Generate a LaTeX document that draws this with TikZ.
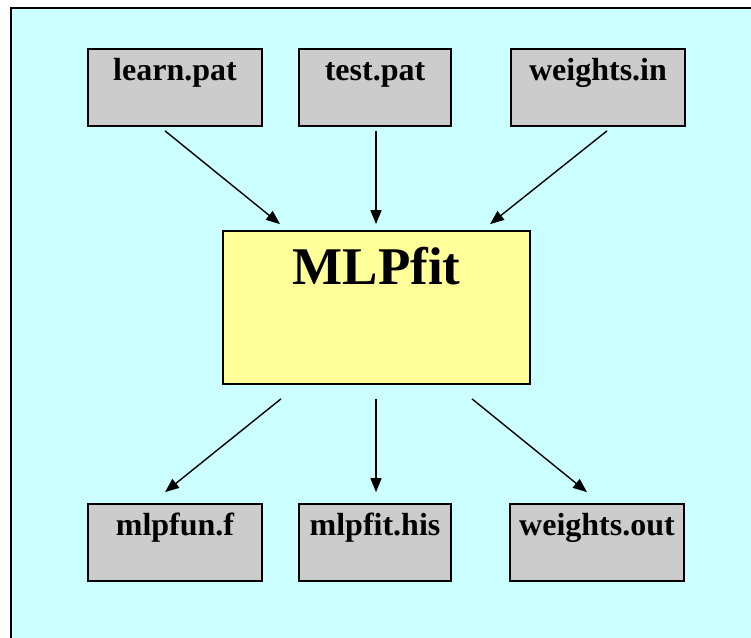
\documentclass[tikz,border=0pt]{standalone}
\usepackage{fontspec}
\setmainfont{Liberation Serif}
\usepackage{xcolor}
\usetikzlibrary{arrows.meta,calc}

\definecolor{bgcyan}{HTML}{CCFFFF}
\definecolor{filegray}{HTML}{CCCCCC}
\definecolor{progyellow}{HTML}{FFFF99}

\begin{document}
\begin{tikzpicture}[
  x=1pt, y=-1pt,
  >={Triangle[length=14pt,width=11pt]},
  filebox/.style={draw, line width=1.7pt, fill=filegray, inner sep=0pt, align=center,
    text width=#1, text height=31pt, text depth=46pt,
    font=\fontsize{32}{36}\selectfont\bfseries},
  filebox/.default=174pt,
  progbox/.style={draw, line width=1.7pt, fill=progyellow, inner sep=0pt, align=center,
    text width=307pt, text height=53pt, text depth=100pt,
    font=\fontsize{53}{60}\selectfont\bfseries},
  flow/.style={->, line width=1.4pt}
]
\useasboundingbox (0,0) rectangle (751,637);
\fill[bgcyan, draw=black, line width=2.2pt] (11,8) rectangle (770,660);

% input files
\node[filebox] (learn) at (175,87.5) {learn.pat};
\node[filebox=152pt] (test) at (375,87.5) {test.pat};
\node[filebox] (winput) at (598,87.5) {weights.in};

% program
\node[progbox] (mlp) at (376.5,307.5) {MLPfit};

% output files
\node[filebox] (mlpfun) at (175,542.5) {mlpfun.f};
\node[filebox=152pt] (mlphis) at (375,542.5) {mlpfit.his};
\node[filebox] (woutput) at (597,542.5) {weights.out};

\draw[flow] ($(learn.south)+(-10,4)$) -- ($(mlp.north)+(-96.5,-6)$);
\draw[flow] ($(test.south)+(1,4)$) -- ($(mlp.north)+(-0.5,-6)$);
\draw[flow] ($(winput.south)+(9,4)$) -- ($(mlp.north)+(113.5,-6)$);

\draw[flow] ($(mlp.south)+(-95.5,14)$) -- ($(mlpfun.north)+(-10,-11)$);
\draw[flow] ($(mlp.south)+(-0.5,14)$) -- ($(mlphis.north)+(1,-11)$);
\draw[flow] ($(mlp.south)+(95.5,14)$) -- ($(woutput.north)+(-10,-11)$);
\end{tikzpicture}
\end{document}
